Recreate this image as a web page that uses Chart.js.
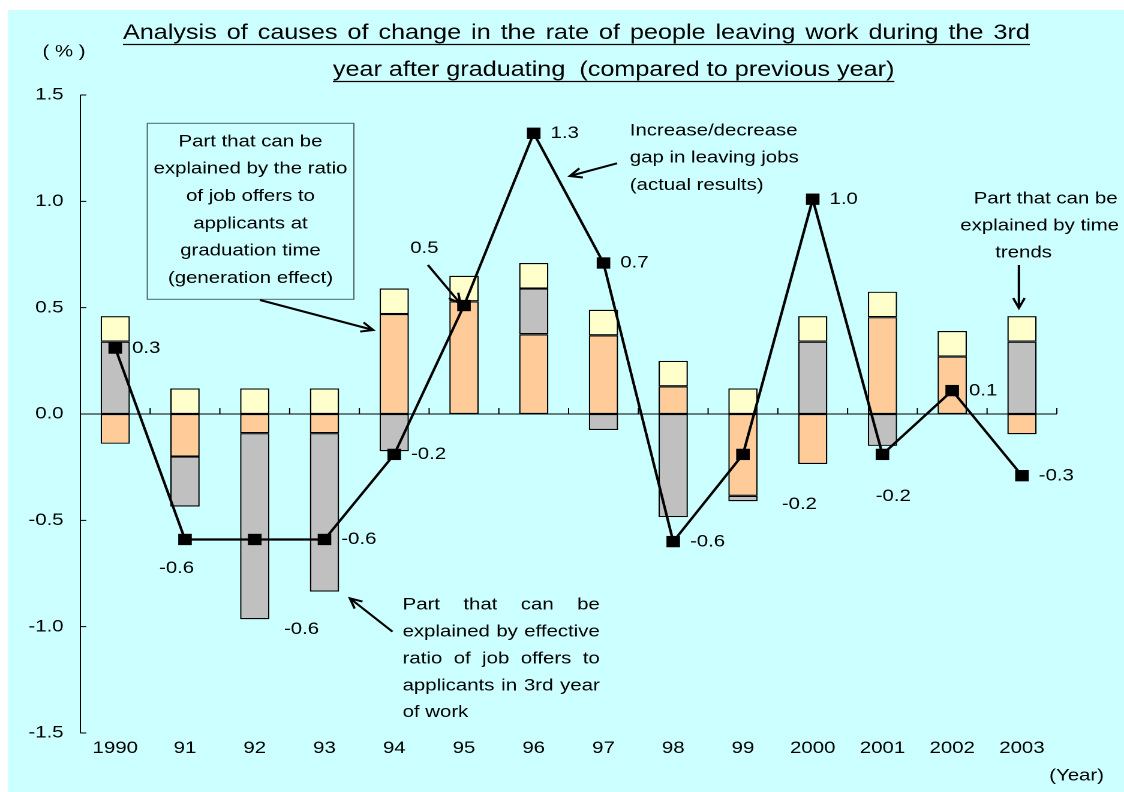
<!DOCTYPE html>
<html>
<head>
<meta charset="utf-8">
<script src="https://cdn.jsdelivr.net/npm/chart.js@4.4.1/dist/chart.umd.min.js"></script>
<style>
  html, body { margin: 0; padding: 0; background: #fff; overflow: hidden; }
  #wrap { width: 937px; height: 792px; transform: scaleX(1.19957); transform-origin: 0 0; }
</style>
</head>
<body>
<div id="wrap"><canvas id="chart"></canvas></div>
<script>
const years = ['1990', '91', '92', '93', '94', '95', '96', '97', '98', '99', '2000', '2001', '2002', '2003']
// part explained by job-offer ratio at graduation (generation effect)
const generationEffect = [-0.14, -0.20, -0.09, -0.09, 0.47, 0.53, 0.375, 0.37, 0.13, -0.385, -0.235, 0.455, 0.27, -0.095]
// part explained by effective job-offer ratio in 3rd year of work
const thirdYearEffect = [0.34, -0.235, -0.875, -0.745, -0.175, 0, 0.215, -0.075, -0.485, -0.025, 0.34, -0.15, 0, 0.34]
// part explained by time trends
const timeTrend = [0.12, 0.12, 0.12, 0.12, 0.12, 0.12, 0.12, 0.12, 0.12, 0.12, 0.12, 0.12, 0.12, 0.12]
// increase/decrease gap in leaving jobs (actual results)
const actualGap = [0.31, -0.59, -0.59, -0.59, -0.19, 0.51, 1.32, 0.71, -0.60, -0.19, 1.01, -0.19, 0.11, -0.29]

const FONT = "'Liberation Sans', Arial, sans-serif"

// where each value label of the line sits, relative to its point
const labelPos = [
  ['left', 14, 0], ['center', -7, 29], ['center', 39, 90], ['left', 14, 0], ['left', 14, 0],
  ['center', -33, -57], ['left', 14, 0], ['left', 14, 0], ['left', 14, 0], ['center', 47, 50],
  ['left', 14, 0], ['center', 9, 42], ['left', 14, 0], ['left', 14, 0]
]

function arrow(ctx, x1, y1, x2, y2) {
  const ang = Math.atan2(y2 - y1, x2 - x1)
  const h = 11
  ctx.beginPath()
  ctx.moveTo(x1, y1)
  ctx.lineTo(x2, y2)
  ctx.moveTo(x2 - h * Math.cos(ang - 0.45), y2 - h * Math.sin(ang - 0.45))
  ctx.lineTo(x2, y2)
  ctx.lineTo(x2 - h * Math.cos(ang + 0.45), y2 - h * Math.sin(ang + 0.45))
  ctx.stroke()
}

function justified(ctx, text, left, right, y) {
  const words = text.split(' ')
  const total = words.reduce((s, w) => s + ctx.measureText(w).width, 0)
  const gap = (right - left - total) / (words.length - 1)
  let x = left
  ctx.textAlign = 'left'
  words.forEach(w => {
    ctx.fillText(w, x, y)
    x += ctx.measureText(w).width + gap
  })
}

const decor = {
  id: 'decor',
  beforeDraw(chart) {
    const ctx = chart.ctx
    ctx.save()
    ctx.fillStyle = '#fff'
    ctx.fillRect(0, 0, chart.width, chart.height)
    ctx.fillStyle = '#ccffff'
    ctx.fillRect(6.7, 10, chart.width, chart.height)
    ctx.restore()
  },
  beforeDatasetsDraw(chart) {
    const { ctx, chartArea: a, scales: { x, y } } = chart
    ctx.save()
    ctx.strokeStyle = '#000'
    ctx.lineWidth = 1
    ctx.beginPath()
    ctx.moveTo(a.left, y.getPixelForValue(1.5))
    ctx.lineTo(a.left, y.getPixelForValue(-1.5))
    y.ticks.forEach(t => {
      const py = y.getPixelForValue(t.value)
      ctx.moveTo(a.left, py)
      ctx.lineTo(a.left + 5, py)
    })
    const y0 = y.getPixelForValue(0)
    ctx.moveTo(a.left, y0)
    ctx.lineTo(a.right, y0)
    for (let i = 1; i <= years.length; i++) {
      const bx = a.left + (a.right - a.left) * i / years.length
      ctx.moveTo(bx, y0)
      ctx.lineTo(bx, y0 - 6)
    }
    ctx.stroke()
    ctx.restore()
  },
  afterDraw(chart) {
    const { ctx, scales: { x, y } } = chart
    ctx.save()
    ctx.fillStyle = '#000'
    ctx.strokeStyle = '#000'
    ctx.textBaseline = 'middle'

    // line value labels
    ctx.font = '17px ' + FONT
    const pts = chart.getDatasetMeta(3).data
    pts.forEach((p, i) => {
      const [al, dx, dy] = labelPos[i]
      ctx.textAlign = al
      ctx.fillText(actualGap[i].toFixed(1), p.x + dx, p.y + dy)
    })

    // title, first line spread to the width of the box
    ctx.font = '21px ' + FONT
    ctx.lineWidth = 1.3
    const t1 = 'Analysis of causes of change in the rate of people leaving work during the 3rd'
    const t2 = 'year after graduating  (compared to previous year)'
    justified(ctx, t1, 102.5, 858.5, 33)
    ctx.beginPath()
    ctx.moveTo(102.5, 44.5)
    ctx.lineTo(858.5, 44.5)
    ctx.stroke()
    ctx.textAlign = 'left'
    ctx.fillText(t2, 277.5, 70)
    ctx.beginPath()
    ctx.moveTo(277.5, 81.5)
    ctx.lineTo(277.5 + ctx.measureText(t2).width, 81.5)
    ctx.stroke()

    ctx.font = '17px ' + FONT
    ctx.textAlign = 'center'
    ctx.fillText('( % )', 53.3, 52)
    ctx.fillText('(Year)', 897.5, 776)

    // generation effect callout box
    ctx.fillStyle = '#ccffff'
    ctx.fillRect(122.8, 123.3, 172.2, 176)
    ctx.strokeStyle = '#4a6868'
    ctx.lineWidth = 1
    ctx.strokeRect(122.8, 123.3, 172.2, 176)
    ctx.fillStyle = '#000'
    ctx.strokeStyle = '#000'
    const boxLines = ['Part that can be', 'explained by the ratio', 'of job offers to', 'applicants at', 'graduation time', '(generation effect)']
    boxLines.forEach((t, i) => ctx.fillText(t, 208.8, 141.7 + i * 27.3))

    ctx.lineWidth = 2
    arrow(ctx, 216.7, 300, 311.1, 330)

    // actual results note
    ctx.textAlign = 'left'
    const gapLines = ['Increase/decrease', 'gap in leaving jobs', '(actual results)']
    gapLines.forEach((t, i) => ctx.fillText(t, 525, 130.7 + i * 27.2))
    arrow(ctx, 514.4, 163.3, 475, 176)

    // time trend note
    ctx.textAlign = 'center'
    ctx.fillText('Part that can be', 871.7, 199)
    ctx.fillText('explained by time', 866.7, 226)
    ctx.fillText('trends', 853.3, 253)
    arrow(ctx, 849.4, 265, 849.4, 308)

    // 3rd year note
    const workLines = ['Part that can be', 'explained by effective', 'ratio of job offers to', 'applicants in 3rd year']
    workLines.forEach((t, i) => justified(ctx, t, 335.6, 500, 605 + i * 26.9))
    ctx.textAlign = 'left'
    ctx.fillText('of work', 335.6, 712.3)
    arrow(ctx, 327.2, 631.7, 291.7, 598.3)

    // pointer to the 1995 value
    const p95 = pts[5]
    arrow(ctx, 356.7, 265, p95.x - 3, p95.y - 2)

    ctx.restore()
  }
}

const chart = {
  init() {
    const ctx = document.querySelector('#chart').getContext('2d')
    const bar = (data, color) => ({
      type: 'bar',
      data: data,
      backgroundColor: color,
      borderColor: '#000',
      borderWidth: 1.2,
      borderSkipped: false,
      stack: 'parts',
      order: 1,
      categoryPercentage: 1,
      barPercentage: 0.42
    })
    this.chart = new Chart(ctx, {
      type: 'bar',
      data: {
        labels: years,
        datasets: [
          bar(generationEffect, '#ffcc99'),
          bar(thirdYearEffect, '#c0c0c0'),
          bar(timeTrend, '#ffffcc'),
          {
            type: 'line',
            data: actualGap,
            borderColor: '#000',
            backgroundColor: '#000',
            borderWidth: 2.2,
            pointStyle: 'rect',
            pointRadius: 8,
            pointBorderWidth: 0,
            tension: 0,
            stack: 'actual',
            order: 0
          }
        ]
      },
      options: {
        responsive: true,
        maintainAspectRatio: false,
        animation: false,
        devicePixelRatio: 2,
        layout: { padding: { left: 7, top: 95, right: 56, bottom: 0 } },
        plugins: { legend: { display: false }, tooltip: { enabled: false } },
        font: { family: FONT },
        scales: {
          x: {
            stacked: true,
            grid: { display: false, drawTicks: false },
            border: { display: false },
            ticks: { color: '#000', font: { family: FONT, size: 17 }, padding: 5, maxRotation: 0, autoSkip: false },
            afterFit(s) { s.height = 59 }
          },
          y: {
            stacked: true,
            min: -1.5,
            max: 1.5,
            grid: { display: false, drawTicks: false },
            border: { display: false },
            ticks: {
              stepSize: 0.5,
              color: '#000',
              font: { family: FONT, size: 17 },
              padding: 14,
              callback: v => v.toFixed(1)
            },
            afterFit(s) { s.width = 60 }
          }
        }
      },
      plugins: [decor]
    })
  }
}

window.addEventListener('load', e => {
  chart.init()
})
</script>
</body>
</html>
